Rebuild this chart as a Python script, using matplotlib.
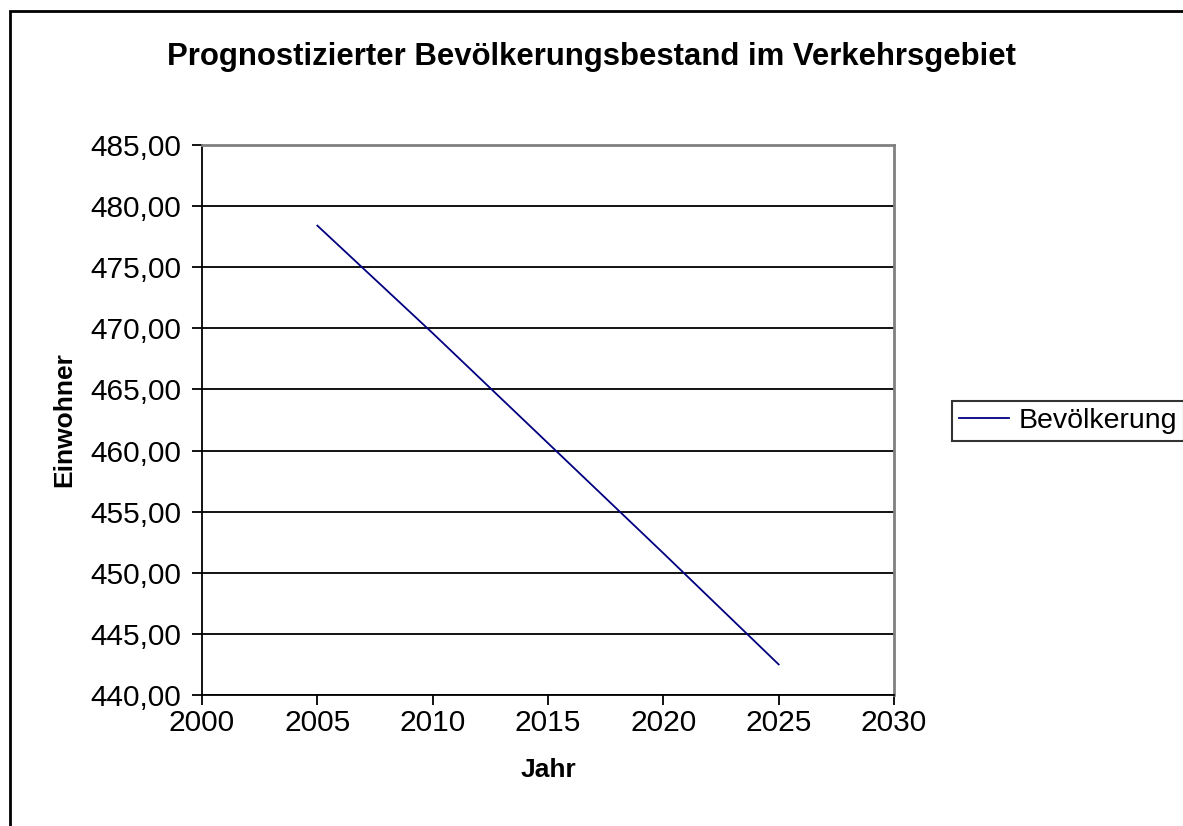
import matplotlib
matplotlib.use('Agg')
import matplotlib.pyplot as plt
from matplotlib.ticker import FuncFormatter, MultipleLocator
from matplotlib.patches import Rectangle

plt.rcParams['font.family'] = ['Liberation Sans', 'DejaVu Sans']

jahre = [2005, 2010, 2015, 2020, 2025]
einwohner = [478.4, 469.6, 460.6, 451.6, 442.5]

fig = plt.figure(figsize=(11.83, 8.26), dpi=100)
ax = fig.add_axes([0.1708, 0.1586, 0.5849, 0.6659])

ax.plot(jahre, einwohner, color='#000080', linewidth=1.3, label='Bevölkerung')

ax.set_xlim(2000, 2030)
ax.set_ylim(440, 485)
ax.xaxis.set_major_locator(MultipleLocator(5))
ax.yaxis.set_major_locator(MultipleLocator(5))
ax.yaxis.set_major_formatter(FuncFormatter(lambda v, p: '{:.2f}'.format(v).replace('.', ',')))
ax.grid(axis='y', color='black', linewidth=1.3)
ax.set_axisbelow(True)

for s in ['top', 'right']:
    ax.spines[s].set_color('#808080')
    ax.spines[s].set_linewidth(2)
for s in ['left', 'bottom']:
    ax.spines[s].set_color('black')
    ax.spines[s].set_linewidth(1.3)
ax.tick_params(direction='out', length=7, width=1.3, labelsize=21.5)
ax.tick_params(axis='x', pad=3)
ax.tick_params(axis='y', pad=8)

ax.set_xlabel('Jahr', fontsize=19, fontweight='bold', labelpad=15)
ax.set_ylabel('Einwohner', fontsize=19, fontweight='bold', labelpad=10)
fig.text(0.5, 0.931, 'Prognostizierter Bevölkerungsbestand im Verkehrsgebiet',
         ha='center', va='center', fontsize=22.4, fontweight='bold')

leg = ax.legend(loc='center left', bbox_to_anchor=(0.8047, 0.4903), bbox_transform=fig.transFigure,
                fontsize=20.5, frameon=True, fancybox=False, borderpad=0.25,
                handlelength=1.75, handletextpad=0.35, borderaxespad=0)
leg.get_frame().set_edgecolor('black')
leg.get_frame().set_linewidth(1.5)

fig.patches.append(Rectangle((0.0085, -0.1), 1.2, 1.087, transform=fig.transFigure,
                             fill=False, edgecolor='black', linewidth=2))

fig.savefig('out.png', dpi=100)
